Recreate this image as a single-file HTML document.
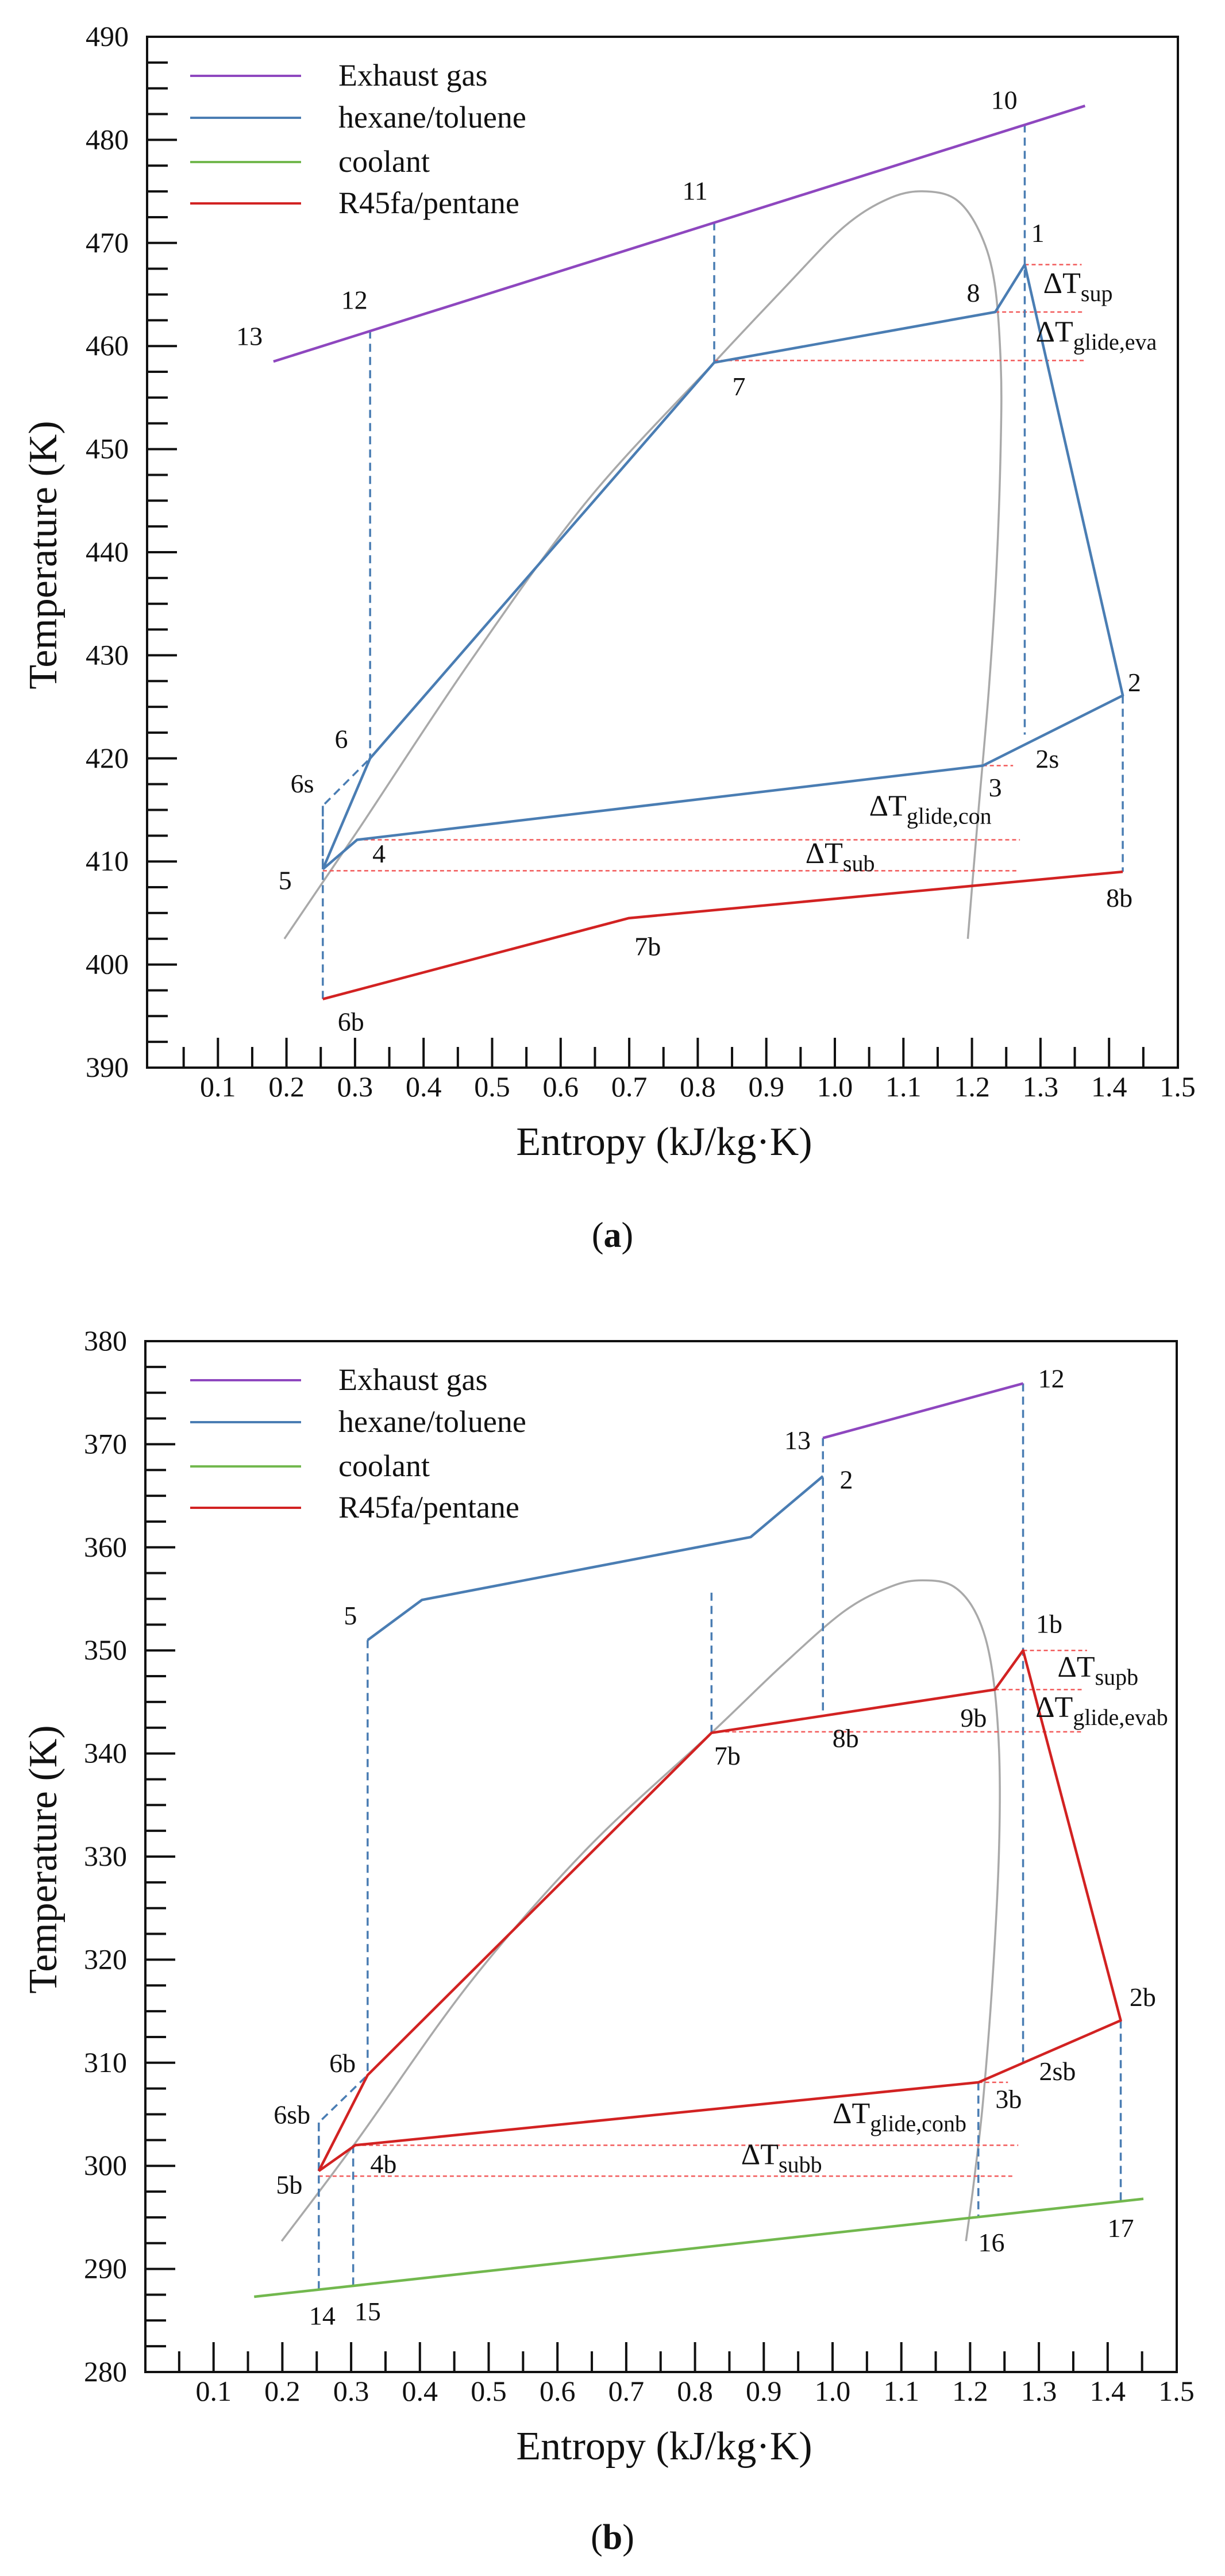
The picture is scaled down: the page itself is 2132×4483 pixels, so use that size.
<!DOCTYPE html>
<html><head><meta charset="utf-8">
<style>
html,body{margin:0;padding:0;background:#fff;}
svg{display:block;}
text{font-family:"Liberation Serif","DejaVu Serif",serif;fill:#111;}
</style></head>
<body>
<svg id="root" width="2132" height="4483" viewBox="0 0 2132 4483" xmlns="http://www.w3.org/2000/svg">
  <g id="chartA"></g>
  <g id="chartB"></g>
  <text x="1066" y="2170" text-anchor="middle" font-size="62">(<tspan font-weight="bold">a</tspan>)</text>
  <text x="1066" y="4436" text-anchor="middle" font-size="62">(<tspan font-weight="bold">b</tspan>)</text>
</svg>
<script>
// ===== Chart (a) data =====
const aYTicks = [390,400,410,420,430,440,450,460,470,480,490];
const aXTicks = [0.1,0.2,0.3,0.4,0.5,0.6,0.7,0.8,0.9,1.0,1.1,1.2,1.3,1.4,1.5];
const aExhaustS = [0.181, 1.365];
const aExhaustT = [458.5, 483.3];
const aCycleS = [0.253, 0.322, 0.824, 1.234, 1.277, 1.420, 1.216, 0.303, 0.253];
const aCycleT = [409.25, 420.0, 458.4, 463.3, 467.9, 426.1, 419.3, 412.1, 409.25];
const aRedS = [0.253, 0.699, 1.420];
const aRedT = [396.65, 404.5, 409.0];
const aIsenS = [0.253, 0.253, 0.322];
const aIsenT = [409.25, 415.4, 420.0];
const aDomeS = [0.197,0.303,0.468,0.639,0.824,0.923,1.014,1.082,1.134,1.179,1.213,1.233,1.242,1.242,1.236,1.225,1.210,1.200,1.194];
const aDomeT = [402.5,412.9,429.4,445.0,458.4,465.4,471.6,474.4,475.0,474.1,470.8,466.1,458.3,450.5,438.7,427.0,415.3,407.4,402.5];
const aVertS = [0.322, 0.824, 1.277, 0.253, 1.420];
const aVertT1 = [461.5, 472.0, 481.5, 415.4, 426.1];
const aVertT2 = [420.0, 458.4, 422.3, 396.65, 409.0];
const aHorT = [467.9, 463.3, 458.6, 419.3, 412.1, 409.1];
const aHorS1 = [1.277, 1.234, 0.824, 1.216, 0.303, 0.253];
const aHorS2 = [1.360, 1.364, 1.364, 1.260, 1.270, 1.268];
const aLabels = ["13","12","11","10","1","8","7","2","2s","3","6","6s","4","5","7b","8b","6b"];
const aLabelS = [0.146,0.299,0.796,1.247,1.296,1.202,0.860,1.437,1.310,1.234,0.280,0.223,0.335,0.198,0.727,1.415,0.294];
const aLabelT = [461.0,464.5,475.1,483.9,471.0,465.2,456.1,427.4,420.0,417.2,421.9,417.6,410.8,408.2,401.8,406.5,394.5];
const aDeltaSub = ["sup","glide,eva","glide,con","sub"];
const aDeltaS = [1.304,1.293,1.050,0.957];
const aDeltaT = [465.7,461.0,415.0,410.4];

// ===== Chart (b) data =====
const bYTicks = [280,290,300,310,320,330,340,350,360,370,380];
const bXTicks = [0.1,0.2,0.3,0.4,0.5,0.6,0.7,0.8,0.9,1.0,1.1,1.2,1.3,1.4,1.5];
const bExhaustS = [0.986, 1.277];
const bExhaustT = [370.6, 375.9];
const bBlueS = [0.324, 0.403, 0.881, 0.986];
const bBlueT = [351.0, 354.9, 361.0, 366.9];
const bCoolS = [0.159, 1.452];
const bCoolT = [287.3, 296.8];
const bCycleS = [0.253, 0.324, 0.824, 1.236, 1.277, 1.419, 1.212, 0.306, 0.253];
const bCycleT = [299.5, 308.8, 342.0, 346.2, 350.0, 314.1, 308.1, 302.0, 299.5];
const bIsenS = [0.253, 0.253, 0.324];
const bIsenT = [299.5, 304.2, 308.8];
const bDomeS = [0.199,0.307,0.472,0.642,0.824,0.926,1.017,1.085,1.131,1.176,1.210,1.231,1.242,1.242,1.233,1.219,1.205,1.194];
const bDomeT = [292.7,302.3,317.7,330.7,342.0,348.5,353.8,356.2,356.8,356.2,353.4,348.5,340.4,330.7,318.5,306.4,298.2,292.7];
const bVertS = [0.324, 0.986, 1.277, 0.824, 1.419, 1.212, 0.253, 0.303];
const bVertT1 = [351.0, 370.6, 375.9, 355.6, 314.1, 308.1, 304.2, 302.0];
const bVertT2 = [308.8, 343.6, 310.0, 342.0, 296.6, 295.0, 287.7, 288.4];
const bHorT = [350.0, 346.2, 342.1, 308.1, 302.0, 299.0];
const bHorS1 = [1.277, 1.236, 0.824, 1.212, 0.306, 0.253];
const bHorS2 = [1.370, 1.364, 1.364, 1.255, 1.270, 1.265];
const bLabels = ["13","12","2","5","1b","9b","8b","7b","2b","2sb","3b","6b","6sb","4b","5b","14","15","16","17"];
const bLabelS = [0.949,1.318,1.020,0.299,1.315,1.205,1.019,0.847,1.451,1.327,1.256,0.2875,0.214,0.347,0.210,0.258,0.324,1.231,1.419];
const bLabelT = [370.4,376.4,366.6,353.4,352.6,343.5,341.5,339.8,316.4,309.2,306.5,310.0,305.0,300.2,298.2,285.5,285.9,292.6,294.0];
const bDeltaSub = ["supb","glide,evab","glide,conb","subb"];
const bDeltaS = [1.327,1.295,1.000,0.867];
const bDeltaT = [348.0,344.1,304.7,300.7];

const legendNames = ["Exhaust gas","hexane/toluene","coolant","R45fa/pentane"];
const C = {purple:"#8e47bf", blue:"#4a7db3", green:"#72b84e", red:"#d22222", gray:"#a9a9a9", dred:"#f25a5a"};
const NS = "http://www.w3.org/2000/svg";

function mk(parent, tag, attrs){
  const e = document.createElementNS(NS, tag);
  for (const k in attrs) e.setAttribute(k, attrs[k]);
  parent.appendChild(e);
  return e;
}
function pts(S, T, X, Y){ return S.map((s,i)=>X(s).toFixed(1)+","+Y(T[i]).toFixed(1)).join(" "); }
function smoothPath(S, T, X, Y){
  const P = S.map((s,i)=>[X(s), Y(T[i])]);
  let d = "M" + P[0][0].toFixed(1) + "," + P[0][1].toFixed(1);
  for (let i = 0; i < P.length-1; i++){
    const p0 = P[Math.max(0,i-1)], p1 = P[i], p2 = P[i+1], p3 = P[Math.min(P.length-1,i+2)];
    const c1x = p1[0] + (p2[0]-p0[0])/6, c1y = p1[1] + (p2[1]-p0[1])/6;
    const c2x = p2[0] - (p3[0]-p1[0])/6, c2y = p2[1] - (p3[1]-p1[1])/6;
    d += " C" + c1x.toFixed(1)+","+c1y.toFixed(1)+" "+c2x.toFixed(1)+","+c2y.toFixed(1)+" "+p2[0].toFixed(1)+","+p2[1].toFixed(1);
  }
  return d;
}

function drawChart(g, cfg){
  const X = v => cfg.x0 + cfg.xs * v;
  const Y = t => cfg.top + (cfg.tmax - t) * cfg.ys;
  const fr = mk(g,"rect",{x:cfg.left,y:cfg.top,width:cfg.right-cfg.left,height:cfg.bottom-cfg.top,fill:"none",stroke:"#111","stroke-width":4});
  
  
  const tmin = cfg.yTicks[0];
  for (let t = tmin; t <= cfg.tmax + 0.01; t += 2.5){
    const major = Math.abs(t/10 - Math.round(t/10)) < 0.001;
    if (t===tmin || Math.abs(t-cfg.tmax)<0.01) continue;
    const tk = mk(g,"line",{x1:cfg.left,x2:cfg.left+(major?52:36),y1:Y(t),y2:Y(t),stroke:"#111","stroke-width":4});
    
    
  }
  cfg.yTicks.forEach(t=>{
    const lb = mk(g,"text",{x:cfg.left-32,y:Y(t)+16,"text-anchor":"end","font-size":50});
    lb.textContent = t;
    
    
  });
  for (let v = 0.05; v <= 1.46; v += 0.05){
    const major = Math.abs(v*10 - Math.round(v*10)) < 0.001;
    const tk = mk(g,"line",{x1:X(v),x2:X(v),y1:cfg.bottom,y2:cfg.bottom-(major?52:36),stroke:"#111","stroke-width":4});
    
    
  }
  cfg.xTicks.forEach(v=>{
    const lb = mk(g,"text",{x:X(v),y:cfg.bottom+50,"text-anchor":"middle","font-size":50});
    lb.textContent = v.toFixed(1);
    
    
  });
  const xt = mk(g,"text",{x:1156,y:cfg.bottom+152,"text-anchor":"middle","font-size":70});
  xt.textContent = "Entropy (kJ/kg\u00b7K)";
  
  
  const yc = cfg.top + (cfg.bottom-cfg.top)*0.5 + 5;
  const yt = mk(g,"text",{x:0,y:0,"text-anchor":"middle","font-size":70,transform:"translate(98,"+yc+") rotate(-90)"});
  yt.textContent = "Temperature (K)";
  
  
  const dome = mk(g,"path",{d:smoothPath(cfg.domeS,cfg.domeT,X,Y),fill:"none",stroke:C.gray,"stroke-width":3.5,"stroke-linejoin":"round"});
  
  
  cfg.horT.forEach((t,i)=>{
    const l = mk(g,"line",{x1:X(cfg.horS1[i]),x2:X(cfg.horS2[i]),y1:Y(t),y2:Y(t),stroke:C.dred,"stroke-width":2.5,"stroke-dasharray":"7 5"});
    
    
  });
  cfg.vertS.forEach((s,i)=>{
    const l = mk(g,"line",{x1:X(s),x2:X(s),y1:Y(cfg.vertT1[i]),y2:Y(cfg.vertT2[i]),stroke:C.blue,"stroke-width":3.5,"stroke-dasharray":"14 9"});
    
    
  });
  const ise = mk(g,"polyline",{points:pts(cfg.isenS,cfg.isenT,X,Y),fill:"none",stroke:C.blue,"stroke-width":3.5,"stroke-dasharray":"14 9"});
  
  
  cfg.series.forEach(sr=>{
    const p = mk(g,"polyline",{points:pts(sr.s,sr.t,X,Y),fill:"none",stroke:sr.c,"stroke-width":4.5,"stroke-linejoin":"round"});
    
    
  });
  cfg.labels.forEach((lab,i)=>{
    const t = mk(g,"text",{x:X(cfg.labelS[i]),y:Y(cfg.labelT[i])+16,"text-anchor":"middle","font-size":46});
    t.textContent = lab;
    
    
  });
  cfg.deltaSub.forEach((sub,i)=>{
    const t = mk(g,"text",{x:X(cfg.deltaS[i]),y:Y(cfg.deltaT[i])+10,"font-size":52});
    const a = document.createElementNS(NS,"tspan"); a.textContent = "\u0394T"; t.appendChild(a);
    const b = document.createElementNS(NS,"tspan"); b.setAttribute("font-size","40"); b.setAttribute("dy","14"); b.textContent = sub; t.appendChild(b);
    
    
  });
  const lc = [C.purple,C.blue,C.green,C.red];
  const ly = [68,141,218,290];
  legendNames.forEach((n,i)=>{
    const y = cfg.top + ly[i];
    const l = mk(g,"line",{x1:331,x2:524,y1:y,y2:y,stroke:lc[i],"stroke-width":4});
    
    
    const t = mk(g,"text",{x:589,y:y+17,"font-size":54});
    t.textContent = n;
    
    
  });
}

drawChart(document.getElementById("chartA"), {
  left:256,right:2050,top:64,bottom:1858,x0:260,xs:1193,tmax:490,ys:17.94,
  yTicks:aYTicks,xTicks:aXTicks,domeS:aDomeS,domeT:aDomeT,
  horT:aHorT,horS1:aHorS1,horS2:aHorS2,vertS:aVertS,vertT1:aVertT1,vertT2:aVertT2,
  isenS:aIsenS,isenT:aIsenT,
  series:[{s:aExhaustS,t:aExhaustT,c:C.purple,name:"exhaust-gas-line"},
          {s:aCycleS,t:aCycleT,c:C.blue,name:"hexane-toluene-cycle"},
          {s:aRedS,t:aRedT,c:C.red,name:"r245fa-pentane-line"}],
  labels:aLabels,labelS:aLabelS,labelT:aLabelT,deltaSub:aDeltaSub,deltaS:aDeltaS,deltaT:aDeltaT
});
drawChart(document.getElementById("chartB"), {
  left:253,right:2048,top:2334,bottom:4128,x0:252,xs:1197,tmax:380,ys:17.94,
  yTicks:bYTicks,xTicks:bXTicks,domeS:bDomeS,domeT:bDomeT,
  horT:bHorT,horS1:bHorS1,horS2:bHorS2,vertS:bVertS,vertT1:bVertT1,vertT2:bVertT2,
  isenS:bIsenS,isenT:bIsenT,
  series:[{s:bExhaustS,t:bExhaustT,c:C.purple,name:"exhaust-gas-line"},
          {s:bBlueS,t:bBlueT,c:C.blue,name:"hexane-toluene-line"},
          {s:bCoolS,t:bCoolT,c:C.green,name:"coolant-line"},
          {s:bCycleS,t:bCycleT,c:C.red,name:"r245fa-pentane-cycle"}],
  labels:bLabels,labelS:bLabelS,labelT:bLabelT,deltaSub:bDeltaSub,deltaS:bDeltaS,deltaT:bDeltaT
});
</script>
</body></html>
